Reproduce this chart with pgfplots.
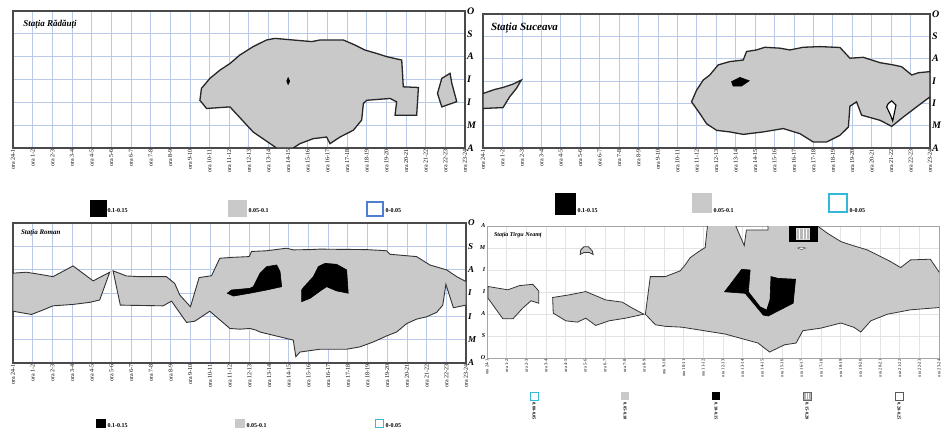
\documentclass[border=0pt]{standalone}
\usepackage{fontspec}
\setmainfont{Liberation Serif}
\usepackage{pgfplots}
\pgfplotsset{compat=1.18}
\definecolor{cfill}{HTML}{C9C9C9}
\definecolor{cgrid}{HTML}{B9C9E8}
\definecolor{cframe}{HTML}{4A4A4A}
\definecolor{cblue}{HTML}{4F7FD0}
\definecolor{ccyan}{HTML}{35B8D8}
\pgfplotsset{
  panel/.style={scale only axis, anchor=south west, xmin=0,xmax=23,ymin=0,ymax=6,
    xtick={0,...,23},
    xticklabels={ora 24-1,ora 1-2,ora 2-3,ora 3-4,ora 4-5,ora 5-6,ora 6-7,ora 7-8,ora 8-9,ora 9-10,ora 10-11,ora 11-12,ora 12-13,ora 13-14,ora 14-15,ora 15-16,ora 16-17,ora 17-18,ora 18-19,ora 19-20,ora 20-21,ora 21-22,ora 22-23,ora 23-24},
    ytick={0,...,6}, major tick length=0pt, grid=major,
    major grid style={cgrid, line width=0.7pt},
    axis line style={cframe, line width=1.6pt},
    xticklabel style={rotate=90, anchor=east, font=\fontsize{6}{6}\selectfont, inner sep=1.5pt},
  },
  months/.style={yticklabels={A,M,I,I,A,S,O}, yticklabel pos=right,
    yticklabel style={font=\bfseries\itshape\fontsize{10}{10}\selectfont, inner sep=2pt}},
  reg/.style={fill=cfill, draw=black!85, line width=1.3pt},
  blk/.style={fill=black, draw=black, line width=0.6pt},
}
\begin{document}
\begin{tikzpicture}
\useasboundingbox (0,0) rectangle (943pt,431pt);
% ---------------- Radauti
\begin{axis}[panel, months, at={(13pt,283pt)}, width=452pt, height=137pt]
\addplot[reg] coordinates {(13.41,0) (12.22,0.70) (11.04,1.80) (9.85,1.73) (9.51,2.09) (9.59,2.61) (10.02,3.05) (10.53,3.41) (11.04,3.70) (11.54,4.07) (12.22,4.44) (12.90,4.73) (13.33,4.80) (14.26,4.73) (15.20,4.66) (15.62,4.73) (16.81,4.73) (17.40,4.51) (17.91,4.29) (18.51,4.14) (19.02,4.00) (19.78,3.85) (19.86,2.68) (20.63,2.65) (20.54,1.43) (19.44,1.43) (19.52,2.02) (19.19,2.17) (18.00,2.09) (17.83,1.95) (17.74,1.22) (17.32,0.78) (16.64,0.48) (16.13,0.19) (15.96,0.48) (15.28,0.41) (14.60,0.19) (14.26,0)} --cycle;
\addplot[reg] coordinates {(21.82,3.05) (22.24,3.27) (22.33,2.83) (22.58,2.03) (21.82,1.80) (21.60,2.39)} --cycle;
\addplot[blk] coordinates {(13.93,2.93) (14.0,3.08) (14.08,2.93) (14.0,2.78)} --cycle;
\node[anchor=west, font=\bfseries\itshape\fontsize{9}{9}\selectfont] at (rel axis cs:0.015,0.905) {Stația Rădăuți};
\end{axis}
% ---------------- Suceava
\begin{axis}[panel, months, at={(483pt,283pt)}, width=447pt, height=134pt]
\addplot[reg] coordinates {(0,2.44) (0.60,2.62) (1.03,2.71) (1.54,2.86) (1.97,3.04) (1.72,2.67) (1.37,2.29) (1.03,1.81) (0,1.77)} --cycle;
\addplot[reg] coordinates {(10.73,2.07) (10.99,2.59) (11.33,3.04) (11.67,3.27) (12.10,3.72) (12.70,3.87) (13.39,3.94) (13.56,4.32) (14.07,4.39) (14.50,4.51) (15.28,4.47) (15.79,4.39) (16.48,4.51) (17.34,4.54) (18.37,4.50) (18.88,4.02) (19.57,4.06) (20.43,3.82) (21.11,3.72) (21.54,3.64) (22.06,3.27) (22.40,3.37) (23,3.42) (23,2.29) (22.31,1.84) (21.63,1.39) (21.03,0.97) (20.43,1.24) (19.48,1.47) (19.22,2.07) (18.88,1.87) (18.80,0.94) (18.37,0.57) (17.68,0.27) (16.99,0.27) (16.31,0.64) (15.45,0.87) (14.42,0.72) (13.39,0.61) (12.70,0.72) (12.02,0.79) (11.50,1.09) (11.16,1.54)} --cycle;
\addplot[blk] coordinates {(12.79,2.97) (13.22,3.16) (13.70,3.01) (13.30,2.77) (12.87,2.77)} --cycle;
\addplot[fill=white, draw=black, line width=1.1pt] coordinates {(20.85,1.99) (21.03,2.11) (21.25,1.92) (21.08,1.21) (20.97,1.47) (20.77,1.84)} --cycle;
\node[anchor=west, font=\bfseries\itshape\fontsize{11}{11}\selectfont] at (rel axis cs:0.01,0.895) {Stația Suceava};
\end{axis}
% ---------------- Roman
\begin{axis}[panel, months, at={(13pt,68pt)}, width=453pt, height=140pt,
  yticklabel style={font=\bfseries\itshape\fontsize{9}{9}\selectfont}]
\addplot[fill=cfill, draw=black!80, line width=0.9pt] coordinates {(0,3.85) (0.68,3.89) (1.36,3.80) (2.03,3.70) (3.05,4.16) (4.07,3.52) (4.91,3.89) (4.40,2.70) (3.90,2.60) (3.05,2.51) (2.03,2.45) (1.52,2.27) (0.93,2.08) (0,2.22)} --cycle;
\addplot[fill=cfill, draw=black!80, line width=0.9pt] coordinates {(5.08,3.95) (5.76,3.73) (6.44,3.70) (7.79,3.70) (8.21,3.41) (8.47,2.91) (9.01,2.41) (9.45,3.66) (10.08,3.74) (10.50,4.49) (11.18,4.53) (11.99,4.56) (12.11,4.78) (12.87,4.81) (13.89,4.92) (14.23,4.85) (15.07,4.86) (15.58,4.88) (17.95,4.86) (18.97,4.81) (19.14,4.66) (20.49,4.56) (21.17,4.20) (22.02,3.99) (22.53,3.70) (23,3.49) (23,2.48) (22.36,2.37) (21.98,3.37) (21.82,2.48) (21.51,2.17) (21.00,1.98) (20.49,1.88) (19.99,1.69) (19.48,1.33) (18.97,1.16) (18.29,0.90) (17.61,0.69) (16.94,0.59) (15.58,0.59) (14.57,0.47) (14.36,0.27) (14.23,0.98) (13.21,1.19) (12.53,1.33) (12.33,1.41) (12.03,1.48) (11.52,1.45) (11.01,1.48) (9.99,2.22) (9.23,1.79) (8.81,1.74) (8.05,2.65) (7.62,2.45) (5.45,2.48)} --cycle;
\addplot[blk] coordinates {(10.88,2.99) (11.10,3.13) (12.03,3.20) (12.20,3.27) (12.54,3.84) (12.88,4.13) (13.39,4.20) (13.56,3.91) (13.64,3.27) (12.88,3.13) (12.03,2.99) (11.19,2.87)} --cycle;
\addplot[blk] coordinates {(14.66,3.13) (14.74,3.23) (15.25,3.70) (15.50,4.13) (15.84,4.27) (16.43,4.23) (16.94,3.99) (17.02,2.99) (16.43,3.09) (15.93,3.27) (15.67,3.13) (15.08,2.77) (14.66,2.63)} --cycle;
\node[anchor=west, font=\bfseries\itshape\fontsize{7}{7}\selectfont] at (rel axis cs:0.01,0.93) {Stația Roman};
\end{axis}
% ---------------- Tirgu Neamt
\begin{axis}[panel, at={(487pt,73pt)}, width=452pt, height=132pt,
  yticklabels={O,S,A,I,I,M,A}, yticklabel pos=left,
  yticklabel style={font=\bfseries\itshape\fontsize{6}{6}\selectfont, inner sep=1.5pt},
  major grid style={gray!22, line width=0.5pt},
  axis line style={gray!70, line width=0.8pt},
  xticklabel style={font=\fontsize{4.5}{5}\selectfont}]
\addplot[fill=cfill, draw=black!80, line width=0.8pt] coordinates {(0.05,3.25) (1.06,3.10) (1.65,3.29) (2.33,3.35) (2.63,3.05) (2.63,2.49) (2.24,2.60) (1.82,2.27) (1.32,1.78) (0.81,1.78) (0.05,2.72)} --cycle;
\addplot[fill=cfill, draw=black!80, line width=0.8pt] coordinates {(3.34,2.75) (4.18,2.87) (5.03,3.02) (6.04,2.64) (6.88,2.54) (7.39,2.27) (7.98,1.99) (7.05,1.81) (6.21,1.69) (5.53,1.48) (5.03,1.81) (4.60,1.63) (4.01,1.69) (3.37,2.04)} --cycle;
\addplot[fill=cfill, draw=black!80, line width=0.8pt] coordinates {(4.77,4.91) (4.94,5.06) (5.16,5.06) (5.36,4.86) (5.40,4.71) (5.19,4.80) (4.94,4.80) (4.74,4.71)} --cycle;
\addplot[fill=cfill, draw=black!80, line width=0.8pt] coordinates {(8.06,1.99) (8.31,3.70) (9.07,3.70) (9.83,3.96) (10.08,4.23) (10.34,4.56) (10.76,4.83) (11.10,5.02) (11.23,6.1) (12.61,6.1) (13.09,5.11) (13.20,5.82) (14.30,5.82) (14.30,6.1) (16.66,6.1) (17.34,5.66) (18.01,5.29) (18.52,5.14) (19.36,4.91) (20.03,4.61) (20.54,4.38) (21.05,4.11) (21.55,4.46) (22.56,4.49) (23.1,3.78) (23.1,2.30) (21.55,2.19) (20.37,1.99) (19.53,1.69) (19.02,1.18) (18.68,1.39) (18.01,1.59) (17.00,1.36) (16.07,1.24) (15.73,0.68) (15.14,0.60) (14.38,0.27) (13.79,0.68) (12.11,1.09) (11.26,1.21) (9.92,1.40) (9.07,1.44) (8.57,1.51)} --cycle;
\addplot[blk] coordinates {(12.09,3.01) (12.96,4.03) (13.39,4.0) (13.30,3.01) (13.89,2.33) (14.23,2.18) (14.40,2.64) (14.45,3.70) (14.82,3.62) (15.70,3.58) (15.58,2.49) (14.31,1.91) (14.06,1.95) (13.56,2.49) (13.14,2.94)} --cycle;
\addplot[fill=black, draw=black] coordinates {(15.36,5.29) (16.78,5.29) (16.78,6.1) (15.36,6.1)} --cycle;
\addplot[fill=gray!55, draw=gray!30] coordinates {(15.73,5.40) (16.41,5.40) (16.41,5.88) (15.73,5.88)} --cycle;
\addplot[draw=white, line width=0.5pt] coordinates {(15.90,5.40) (15.90,5.88)};
\addplot[draw=white, line width=0.5pt] coordinates {(16.07,5.40) (16.07,5.88)};
\addplot[draw=white, line width=0.5pt] coordinates {(16.24,5.40) (16.24,5.88)};
\addplot[fill=white, draw=black!70, line width=0.5pt] coordinates {(15.80,5.00) (16.0,4.93) (16.22,5.00) (16.0,5.04)} --cycle;
\node[anchor=west, font=\bfseries\itshape\fontsize{6}{6}\selectfont] at (rel axis cs:0.008,0.93) {Stația Tirgu Neamț};
\end{axis}
% ---------------- legends
\begin{scope}[font=\bfseries\fontsize{6}{6}\selectfont]
% panel 1
\fill[black] (90pt,214pt) rectangle (107pt,231pt);
\node[anchor=west, inner sep=0.5pt] at (107pt,220pt) {0.1-0.15};
\fill[cfill] (228pt,214pt) rectangle (247pt,231pt);
\node[anchor=west, inner sep=0.5pt] at (248pt,220pt) {0.05-0.1};
\draw[cblue, line width=1.2pt] (367pt,215pt) rectangle (383pt,229pt);
\node[anchor=west, inner sep=0.5pt] at (385pt,220pt) {0-0.05};
% panel 2
\fill[black] (555pt,216pt) rectangle (576pt,238pt);
\node[anchor=west, inner sep=0.5pt] at (577pt,220pt) {0.1-0.15};
\fill[cfill] (692pt,218pt) rectangle (712pt,238pt);
\node[anchor=west, inner sep=0.5pt] at (713pt,220pt) {0.05-0.1};
\draw[ccyan, line width=1.5pt] (829pt,219pt) rectangle (847pt,237pt);
\node[anchor=west, inner sep=0.5pt] at (849pt,220pt) {0-0.05};
% panel 3
\fill[black] (96pt,3pt) rectangle (106pt,12pt);
\node[anchor=west, inner sep=0.5pt] at (107pt,5pt) {0.1-0.15};
\fill[cfill] (235pt,3pt) rectangle (245pt,12pt);
\node[anchor=west, inner sep=0.5pt] at (246pt,5pt) {0.05-0.1};
\draw[ccyan, line width=1pt] (375.5pt,3.5pt) rectangle (383.5pt,11.5pt);
\node[anchor=west, inner sep=0.5pt] at (385pt,5pt) {0-0.05};
\end{scope}
% panel 4
\begin{scope}[font=\bfseries\fontsize{4.5}{5}\selectfont]
\draw[ccyan, line width=0.8pt] (530pt,31pt) rectangle (538pt,39pt);
\node[rotate=-90, anchor=west, inner sep=0.5pt] at (534pt,29pt) {0.00-0.05};
\fill[cfill] (621pt,31pt) rectangle (629pt,39pt);
\node[rotate=-90, anchor=west, inner sep=0.5pt] at (625pt,29pt) {0.05-0.10};
\fill[black] (712pt,31pt) rectangle (720pt,39pt);
\node[rotate=-90, anchor=west, inner sep=0.5pt] at (716pt,29pt) {0.10-0.15};
\fill[gray!60] (803pt,31pt) rectangle (811pt,39pt);
\draw[gray!80!black, line width=0.5pt] (803pt,31pt) rectangle (811pt,39pt);
\draw[white, line width=0.4pt] (806pt,32pt) -- (806pt,38pt) (808pt,32pt) -- (808pt,38pt);
\node[rotate=-90, anchor=west, inner sep=0.5pt] at (807pt,29pt) {0.15-0.20};
\draw[gray!70!black, line width=0.8pt] (895pt,31pt) rectangle (903pt,39pt);
\node[rotate=-90, anchor=west, inner sep=0.5pt] at (899pt,29pt) {0.20-0.25};
\end{scope}
\end{tikzpicture}
\end{document}
